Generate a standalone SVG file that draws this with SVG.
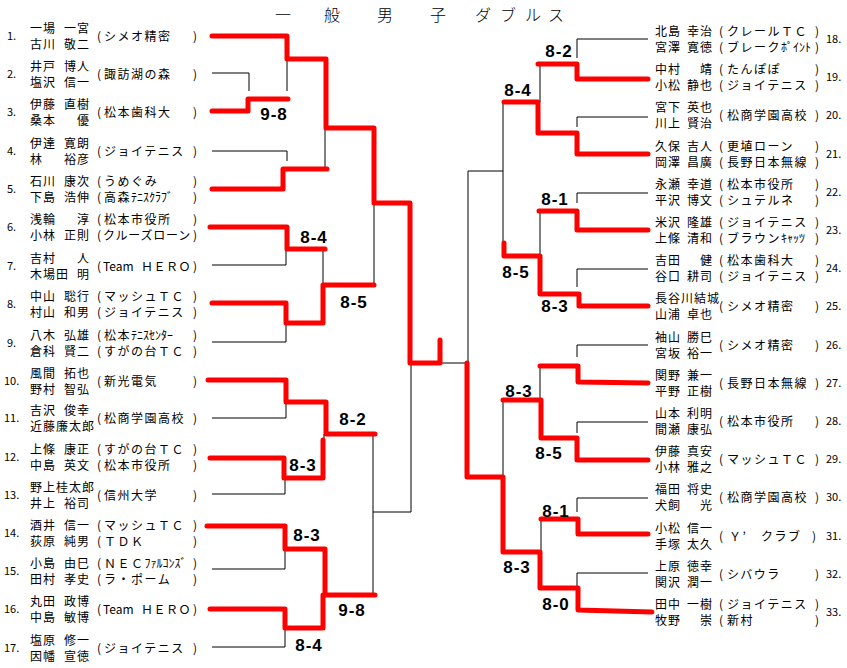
<svg xmlns="http://www.w3.org/2000/svg" width="847" height="668" viewBox="0 0 847 668">
<style>
text{font-family:"Noto Sans CJK JP","Noto Sans CJK SC",sans-serif;fill:#000}
.nm{font-size:12px;letter-spacing:1px}
.g{text-anchor:end}
.tm{font-size:12px;letter-spacing:1.5px}
.hw{letter-spacing:0px}
.num{font-size:11px}
.sc{font-family:"Liberation Sans",Arial,sans-serif;font-weight:bold;font-size:17px;letter-spacing:1px;text-anchor:middle}
.ttl{font-size:16px;font-weight:300}
.k{fill:none;stroke:#000;stroke-width:1}
.r{fill:none;stroke:#f00;stroke-width:5;stroke-linejoin:round;stroke-linecap:round}
</style>
<rect width="847" height="668" fill="#fff"/>
<text class="ttl" y="21"><tspan x="275">一</tspan><tspan x="324">般</tspan><tspan x="377">男</tspan><tspan x="430">子</tspan><tspan x="475">ダ</tspan><tspan x="500">ブ</tspan><tspan x="525">ル</tspan><tspan x="548">ス</tspan></text>

<g id="connectors">
<g class="k">
<polyline points="212,73 249,73 249,91"/>
<line x1="287" y1="59" x2="287" y2="91"/>
<polyline points="212,151 287,151 287,161"/>
<line x1="325" y1="128" x2="325" y2="169"/>
<polyline points="212,265 286,265 286,249"/>
<polyline points="212,342 286,342 286,323"/>
<line x1="323" y1="249" x2="323" y2="285"/>
<line x1="374" y1="203" x2="374" y2="285"/>
<polyline points="212,418 286,418 286,402"/>
<polyline points="212,494 285,494 285,478"/>
<line x1="324" y1="434" x2="324" y2="442"/>
<polyline points="212,569 285,569 285,549"/>
<polyline points="212,647 285,647 285,628"/>
<line x1="373" y1="434" x2="373" y2="595"/>
<polyline points="373,512 411,512 411,363"/>
<line x1="440" y1="363" x2="467" y2="363"/>
<polyline points="648,39 577,39 577,58"/>
<polyline points="648,117 577,117 577,127"/>
<line x1="540" y1="64" x2="540" y2="102"/>
<polyline points="648,193 577,193 577,203"/>
<polyline points="648,269 577,269 577,287"/>
<line x1="540" y1="211" x2="540" y2="256"/>
<line x1="503" y1="102" x2="503" y2="256"/>
<polyline points="503,171 468,171 468,363"/>
<polyline points="648,345 577,345 577,357"/>
<line x1="540" y1="366" x2="540" y2="400"/>
<polyline points="648,422 577,422 577,433"/>
<line x1="503" y1="400" x2="503" y2="552"/>
<polyline points="648,498 577,498 577,512"/>
<line x1="541" y1="519" x2="541" y2="552"/>
<polyline points="648,573 577,573 577,587"/>
</g>
<g class="r">
<polyline points="212,36 287,36 287,59 326,59 326,128 374,128 374,203 410,203 410,363 440,363 440,340"/>
<polyline points="212,111 248,111 248,99 288,99"/>
<polyline points="212,189 283,189 283,169 327,169"/>
<polyline points="210,227 287,227 287,249 325,249"/>
<polyline points="212,303 286,303 286,323 323,323 323,285 374,285"/>
<polyline points="208,380 286,380 286,402 326,402 326,434 375,434"/>
<polyline points="210,458 284,458 284,478 323,478 323,440"/>
<polyline points="207,526 285,526 285,549 325,549 325,595 375,595"/>
<polyline points="210,609 285,609 285,628 323,628 323,595"/>
<polyline points="648,79 577,79 577,64 538,64"/>
<polyline points="648,154 577,154 577,133 538,133 538,102 504,102"/>
<polyline points="648,230 577,230 577,211 539,211"/>
<polyline points="648,306 579,306 579,294 540,294 540,256 504,256 504,243"/>
<polyline points="648,383 578,382 578,366 540,366"/>
<polyline points="648,460 577,460 577,438 541,438 541,400 503,400"/>
<polyline points="648,534 578,534 578,519 541,519"/>
<polyline points="652,612 578,610 578,588 540,588 540,552 503,552 503,477 467,477 467,363"/>
</g>
</g>

<g id="scores">
<text class="sc" x="274" y="120">9-8</text>
<text class="sc" x="314" y="243">8-4</text>
<text class="sc" x="354" y="308">8-5</text>
<text class="sc" x="353" y="425">8-2</text>
<text class="sc" x="303" y="471">8-3</text>
<text class="sc" x="307" y="541">8-3</text>
<text class="sc" x="352" y="616">9-8</text>
<text class="sc" x="309" y="651">8-4</text>
<text class="sc" x="559" y="57">8-2</text>
<text class="sc" x="518" y="96">8-4</text>
<text class="sc" x="555" y="205">8-1</text>
<text class="sc" x="516" y="278">8-5</text>
<text class="sc" x="555" y="312">8-3</text>
<text class="sc" x="519" y="397">8-3</text>
<text class="sc" x="549" y="459">8-5</text>
<text class="sc" x="556" y="517">8-1</text>
<text class="sc" x="517" y="573">8-3</text>
<text class="sc" x="556" y="610">8-0</text>
</g>

<g id="e1" transform="translate(0,36)"><text class="num" x="7" y="4">1.</text>
<text class="nm" x="30" y="-3.5">一場</text><text class="nm g" x="90" y="-3.5">一宮</text>
<text class="nm" x="30" y="12.5">古川</text><text class="nm g" x="90" y="12.5">敬二</text>
<text class="tm" x="97" y="4.5">(<tspan x="104">シメオ精密</tspan><tspan x="193">)</tspan></text></g>

<g id="e2" transform="translate(0,74)"><text class="num" x="7" y="4">2.</text>
<text class="nm" x="30" y="-3.5">井戸</text><text class="nm g" x="90" y="-3.5">博人</text>
<text class="nm" x="30" y="12.5">塩沢</text><text class="nm g" x="90" y="12.5">信一</text>
<text class="tm" x="97" y="4.5">(<tspan x="104">諏訪湖の森</tspan><tspan x="193">)</tspan></text></g>

<g id="e3" transform="translate(0,112)"><text class="num" x="7" y="4">3.</text>
<text class="nm" x="30" y="-3.5">伊藤</text><text class="nm g" x="90" y="-3.5">直樹</text>
<text class="nm" x="30" y="12.5">桑本</text><text class="nm g" x="90" y="12.5">優</text>
<text class="tm" x="97" y="4.5">(<tspan x="104">松本歯科大</tspan><tspan x="193">)</tspan></text></g>

<g id="e4" transform="translate(0,151)"><text class="num" x="7" y="4">4.</text>
<text class="nm" x="30" y="-3.5">伊達</text><text class="nm g" x="90" y="-3.5">寛朗</text>
<text class="nm" x="30" y="12.5">林</text><text class="nm g" x="90" y="12.5">裕彦</text>
<text class="tm" x="97" y="4.5">(<tspan x="104">ジョイテニス</tspan><tspan x="193">)</tspan></text></g>

<g id="e5" transform="translate(0,189)"><text class="num" x="7" y="4">5.</text>
<text class="nm" x="30" y="-3.5">石川</text><text class="nm g" x="90" y="-3.5">康次</text>
<text class="nm" x="30" y="12.5">下島</text><text class="nm g" x="90" y="12.5">浩伸</text>
<text class="tm" x="97" y="-3.5">(<tspan x="104">うめぐみ</tspan><tspan x="193">)</tspan></text>
<text class="tm" x="97" y="12.5">(<tspan x="104">高森</tspan><tspan class="hw">ﾃﾆｽｸﾗﾌﾞ</tspan><tspan x="193">)</tspan></text></g>

<g id="e6" transform="translate(0,227)"><text class="num" x="7" y="4">6.</text>
<text class="nm" x="30" y="-3.5">浅輪</text><text class="nm g" x="90" y="-3.5">淳</text>
<text class="nm" x="30" y="12.5">小林</text><text class="nm g" x="90" y="12.5">正則</text>
<text class="tm" x="97" y="-3.5">(<tspan x="104">松本市役所</tspan><tspan x="193">)</tspan></text>
<text class="tm" x="97" y="12.5" style="letter-spacing:0.8px">(<tspan x="103">クルーズローン</tspan><tspan x="193">)</tspan></text></g>

<g id="e7" transform="translate(0,266)"><text class="num" x="7" y="4">7.</text>
<text class="nm" x="30" y="-3.5">吉村</text><text class="nm g" x="90" y="-3.5">人</text>
<text class="nm" x="30" y="12.5">木場田</text><text class="nm g" x="90" y="12.5">明</text>
<text class="tm" x="97" y="4.5">(<tspan x="103" class="hw">Team</tspan><tspan x="141" style="letter-spacing:0.5px">ＨＥＲＯ</tspan><tspan x="193">)</tspan></text></g>

<g id="e8" transform="translate(0,304)"><text class="num" x="7" y="4">8.</text>
<text class="nm" x="30" y="-3.5">中山</text><text class="nm g" x="90" y="-3.5">聡行</text>
<text class="nm" x="30" y="12.5">村山</text><text class="nm g" x="90" y="12.5">和男</text>
<text class="tm" x="97" y="-3.5">(<tspan x="104">マッシュＴＣ</tspan><tspan x="193">)</tspan></text>
<text class="tm" x="97" y="12.5">(<tspan x="104">ジョイテニス</tspan><tspan x="193">)</tspan></text></g>

<g id="e9" transform="translate(0,343)"><text class="num" x="7" y="4">9.</text>
<text class="nm" x="30" y="-3.5">八木</text><text class="nm g" x="90" y="-3.5">弘雄</text>
<text class="nm" x="30" y="12.5">倉科</text><text class="nm g" x="90" y="12.5">賢二</text>
<text class="tm" x="97" y="-3.5">(<tspan x="104">松本</tspan><tspan class="hw">ﾃﾆｽｾﾝﾀｰ</tspan><tspan x="193">)</tspan></text>
<text class="tm" x="97" y="12.5">(<tspan x="104">すがの台ＴＣ</tspan><tspan x="193">)</tspan></text></g>

<g id="e10" transform="translate(0,381)"><text class="num" x="4" y="4">10.</text>
<text class="nm" x="30" y="-3.5">風間</text><text class="nm g" x="90" y="-3.5">拓也</text>
<text class="nm" x="30" y="12.5">野村</text><text class="nm g" x="90" y="12.5">智弘</text>
<text class="tm" x="97" y="4.5">(<tspan x="104">新光電気</tspan><tspan x="193">)</tspan></text></g>

<g id="e11" transform="translate(0,418)"><text class="num" x="4" y="4">11.</text>
<text class="nm" x="30" y="-3.5">吉沢</text><text class="nm g" x="90" y="-3.5">俊幸</text>
<text class="nm" x="30" y="12.5">近藤廉太郎</text>
<text class="tm" x="97" y="4.5">(<tspan x="104">松商学園高校</tspan><tspan x="193">)</tspan></text></g>

<g id="e12" transform="translate(0,457)"><text class="num" x="4" y="4">12.</text>
<text class="nm" x="30" y="-3.5">上條</text><text class="nm g" x="90" y="-3.5">康正</text>
<text class="nm" x="30" y="12.5">中島</text><text class="nm g" x="90" y="12.5">英文</text>
<text class="tm" x="97" y="-3.5">(<tspan x="104">すがの台ＴＣ</tspan><tspan x="193">)</tspan></text>
<text class="tm" x="97" y="12.5">(<tspan x="104">松本市役所</tspan><tspan x="193">)</tspan></text></g>

<g id="e13" transform="translate(0,495)"><text class="num" x="4" y="4">13.</text>
<text class="nm" x="30" y="-3.5">野上桂太郎</text>
<text class="nm" x="30" y="12.5">井上</text><text class="nm g" x="90" y="12.5">裕司</text>
<text class="tm" x="97" y="4.5">(<tspan x="104">信州大学</tspan><tspan x="193">)</tspan></text></g>

<g id="e14" transform="translate(0,533)"><text class="num" x="4" y="4">14.</text>
<text class="nm" x="30" y="-3.5">酒井</text><text class="nm g" x="90" y="-3.5">信一</text>
<text class="nm" x="30" y="12.5">荻原</text><text class="nm g" x="90" y="12.5">純男</text>
<text class="tm" x="97" y="-3.5">(<tspan x="104">マッシュＴＣ</tspan><tspan x="193">)</tspan></text>
<text class="tm" x="97" y="12.5">(<tspan x="104">ＴＤＫ</tspan><tspan x="193">)</tspan></text></g>

<g id="e15" transform="translate(0,571)"><text class="num" x="4" y="4">15.</text>
<text class="nm" x="30" y="-3.5">小島</text><text class="nm g" x="90" y="-3.5">由巳</text>
<text class="nm" x="30" y="12.5">田村</text><text class="nm g" x="90" y="12.5">孝史</text>
<text class="tm" x="97" y="-3.5">(<tspan x="104">ＮＥＣ</tspan><tspan class="hw">ﾌｧﾙｺﾝｽﾞ</tspan><tspan x="193">)</tspan></text>
<text class="tm" x="97" y="12.5">(<tspan x="104">ラ・ポーム</tspan><tspan x="193">)</tspan></text></g>

<g id="e16" transform="translate(0,609)"><text class="num" x="4" y="4">16.</text>
<text class="nm" x="30" y="-3.5">丸田</text><text class="nm g" x="90" y="-3.5">政博</text>
<text class="nm" x="30" y="12.5">中島</text><text class="nm g" x="90" y="12.5">敏博</text>
<text class="tm" x="97" y="4.5">(<tspan x="103" class="hw">Team</tspan><tspan x="141" style="letter-spacing:0.5px">ＨＥＲＯ</tspan><tspan x="193">)</tspan></text></g>

<g id="e17" transform="translate(0,648)"><text class="num" x="4" y="4">17.</text>
<text class="nm" x="30" y="-3.5">塩原</text><text class="nm g" x="90" y="-3.5">修一</text>
<text class="nm" x="30" y="12.5">因幡</text><text class="nm g" x="90" y="12.5">宣徳</text>
<text class="tm" x="97" y="4.5">(<tspan x="104">ジョイテニス</tspan><tspan x="193">)</tspan></text></g>

<g id="e18" transform="translate(0,39)">
<text class="nm" x="655" y="-3.5">北島</text><text class="nm g" x="713" y="-3.5">幸治</text>
<text class="nm" x="655" y="12.5">宮澤</text><text class="nm g" x="713" y="12.5">寛徳</text>
<text class="tm" x="719" y="-3.5">(<tspan x="727">クレールＴＣ</tspan><tspan x="815">)</tspan></text>
<text class="tm" x="719" y="12.5">(<tspan x="727">ブレーク</tspan><tspan class="hw">ﾎﾟｲﾝﾄ</tspan><tspan x="815">)</tspan></text>
<text class="num" x="826" y="4">18.</text></g>

<g id="e19" transform="translate(0,77)">
<text class="nm" x="655" y="-3.5">中村</text><text class="nm g" x="713" y="-3.5">靖</text>
<text class="nm" x="655" y="12.5">小松</text><text class="nm g" x="713" y="12.5">静也</text>
<text class="tm" x="719" y="-3.5">(<tspan x="727">たんぽぽ</tspan><tspan x="815">)</tspan></text>
<text class="tm" x="719" y="12.5">(<tspan x="727">ジョイテニス</tspan><tspan x="815">)</tspan></text>
<text class="num" x="826" y="4">19.</text></g>

<g id="e20" transform="translate(0,115)">
<text class="nm" x="655" y="-3.5">宮下</text><text class="nm g" x="713" y="-3.5">英也</text>
<text class="nm" x="655" y="12.5">川上</text><text class="nm g" x="713" y="12.5">賢治</text>
<text class="tm" x="719" y="4.5">(<tspan x="727">松商学園高校</tspan><tspan x="815">)</tspan></text>
<text class="num" x="826" y="4">20.</text></g>

<g id="e21" transform="translate(0,154)">
<text class="nm" x="655" y="-3.5">久保</text><text class="nm g" x="713" y="-3.5">吉人</text>
<text class="nm" x="655" y="12.5">岡澤</text><text class="nm g" x="713" y="12.5">昌廣</text>
<text class="tm" x="719" y="-3.5">(<tspan x="727">更埴ローン</tspan><tspan x="815">)</tspan></text>
<text class="tm" x="719" y="12.5">(<tspan x="727">長野日本無線</tspan><tspan x="815">)</tspan></text>
<text class="num" x="826" y="4">21.</text></g>

<g id="e22" transform="translate(0,192)">
<text class="nm" x="655" y="-3.5">永瀬</text><text class="nm g" x="713" y="-3.5">幸道</text>
<text class="nm" x="655" y="12.5">平沢</text><text class="nm g" x="713" y="12.5">博文</text>
<text class="tm" x="719" y="-3.5">(<tspan x="727">松本市役所</tspan><tspan x="815">)</tspan></text>
<text class="tm" x="719" y="12.5">(<tspan x="727">シュテルネ</tspan><tspan x="815">)</tspan></text>
<text class="num" x="826" y="4">22.</text></g>

<g id="e23" transform="translate(0,230)">
<text class="nm" x="655" y="-3.5">米沢</text><text class="nm g" x="713" y="-3.5">隆雄</text>
<text class="nm" x="655" y="12.5">上條</text><text class="nm g" x="713" y="12.5">清和</text>
<text class="tm" x="719" y="-3.5">(<tspan x="727">ジョイテニス</tspan><tspan x="815">)</tspan></text>
<text class="tm" x="719" y="12.5">(<tspan x="727">ブラウン</tspan><tspan class="hw">ｷｬｯﾂ</tspan><tspan x="815">)</tspan></text>
<text class="num" x="826" y="4">23.</text></g>

<g id="e24" transform="translate(0,268)">
<text class="nm" x="655" y="-3.5">吉田</text><text class="nm g" x="713" y="-3.5">健</text>
<text class="nm" x="655" y="12.5">谷口</text><text class="nm g" x="713" y="12.5">耕司</text>
<text class="tm" x="719" y="-3.5">(<tspan x="727">松本歯科大</tspan><tspan x="815">)</tspan></text>
<text class="tm" x="719" y="12.5">(<tspan x="727">ジョイテニス</tspan><tspan x="815">)</tspan></text>
<text class="num" x="826" y="4">24.</text></g>

<g id="e25" transform="translate(0,306)">
<text class="nm" x="655" y="-3.5">長谷川結城</text>
<text class="nm" x="655" y="12.5">山浦</text><text class="nm g" x="713" y="12.5">卓也</text>
<text class="tm" x="719" y="4.5">(<tspan x="727">シメオ精密</tspan><tspan x="815">)</tspan></text>
<text class="num" x="826" y="4">25.</text></g>

<g id="e26" transform="translate(0,345)">
<text class="nm" x="655" y="-3.5">袖山</text><text class="nm g" x="713" y="-3.5">勝巳</text>
<text class="nm" x="655" y="12.5">宮坂</text><text class="nm g" x="713" y="12.5">裕一</text>
<text class="tm" x="719" y="4.5">(<tspan x="727">シメオ精密</tspan><tspan x="815">)</tspan></text>
<text class="num" x="826" y="4">26.</text></g>

<g id="e27" transform="translate(0,383)">
<text class="nm" x="655" y="-3.5">関野</text><text class="nm g" x="713" y="-3.5">兼一</text>
<text class="nm" x="655" y="12.5">平野</text><text class="nm g" x="713" y="12.5">正樹</text>
<text class="tm" x="719" y="4.5">(<tspan x="727">長野日本無線</tspan><tspan x="815">)</tspan></text>
<text class="num" x="826" y="4">27.</text></g>

<g id="e28" transform="translate(0,421)">
<text class="nm" x="655" y="-3.5">山本</text><text class="nm g" x="713" y="-3.5">利明</text>
<text class="nm" x="655" y="12.5">間瀬</text><text class="nm g" x="713" y="12.5">康弘</text>
<text class="tm" x="719" y="4.5">(<tspan x="727">松本市役所</tspan><tspan x="815">)</tspan></text>
<text class="num" x="826" y="4">28.</text></g>

<g id="e29" transform="translate(0,459)">
<text class="nm" x="655" y="-3.5">伊藤</text><text class="nm g" x="713" y="-3.5">真安</text>
<text class="nm" x="655" y="12.5">小林</text><text class="nm g" x="713" y="12.5">雅之</text>
<text class="tm" x="719" y="4.5">(<tspan x="727">マッシュＴＣ</tspan><tspan x="815">)</tspan></text>
<text class="num" x="826" y="4">29.</text></g>

<g id="e30" transform="translate(0,497)">
<text class="nm" x="655" y="-3.5">福田</text><text class="nm g" x="713" y="-3.5">将史</text>
<text class="nm" x="655" y="12.5">犬飼</text><text class="nm g" x="713" y="12.5">光</text>
<text class="tm" x="719" y="4.5">(<tspan x="727">松商学園高校</tspan><tspan x="815">)</tspan></text>
<text class="num" x="826" y="4">30.</text></g>

<g id="e31" transform="translate(0,536)">
<text class="nm" x="655" y="-3.5">小松</text><text class="nm g" x="713" y="-3.5">信一</text>
<text class="nm" x="655" y="12.5">手塚</text><text class="nm g" x="713" y="12.5">太久</text>
<text class="tm" x="719" y="4.5">(<tspan x="729">Ｙ’</tspan><tspan x="761">クラブ</tspan><tspan x="812">)</tspan></text>
<text class="num" x="826" y="4">31.</text></g>

<g id="e32" transform="translate(0,574)">
<text class="nm" x="655" y="-3.5">上原</text><text class="nm g" x="713" y="-3.5">徳幸</text>
<text class="nm" x="655" y="12.5">関沢</text><text class="nm g" x="713" y="12.5">潤一</text>
<text class="tm" x="719" y="4.5">(<tspan x="727">シバウラ</tspan><tspan x="815">)</tspan></text>
<text class="num" x="826" y="4">32.</text></g>

<g id="e33" transform="translate(0,612)">
<text class="nm" x="655" y="-3.5">田中</text><text class="nm g" x="713" y="-3.5">一樹</text>
<text class="nm" x="655" y="12.5">牧野</text><text class="nm g" x="713" y="12.5">崇</text>
<text class="tm" x="719" y="-3.5">(<tspan x="727">ジョイテニス</tspan><tspan x="815">)</tspan></text>
<text class="tm" x="719" y="12.5">(<tspan x="727">新村</tspan><tspan x="815">)</tspan></text>
<text class="num" x="826" y="4">33.</text></g>
</svg>
